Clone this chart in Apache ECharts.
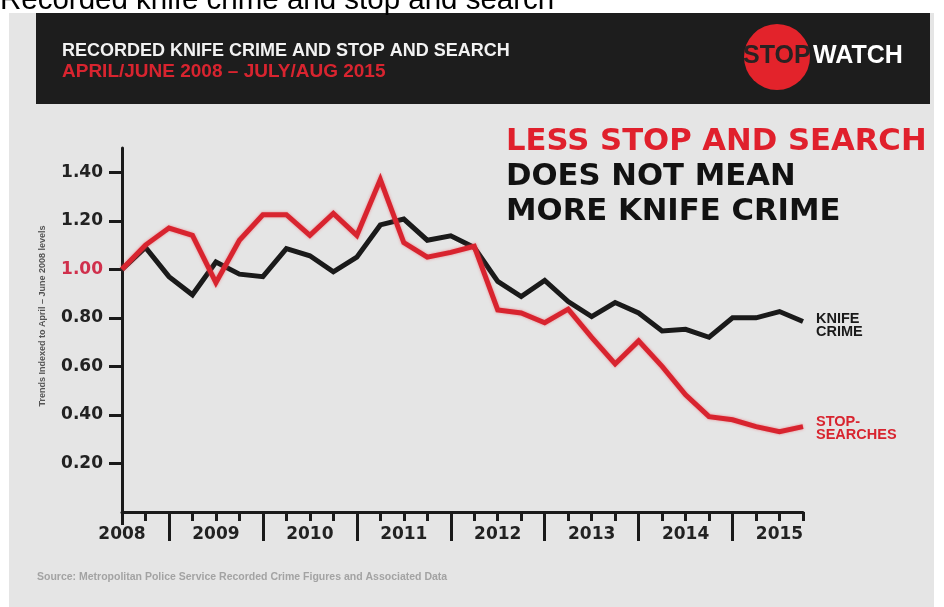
<!DOCTYPE html>
<html>
<head>
<meta charset="utf-8">
<script src="https://cdn.jsdelivr.net/npm/echarts@6/dist/echarts.min.js"></script>
<style>
  html, body { margin: 0; padding: 0; background: #ffffff; }
  #chart { width: 944px; height: 607px; }
</style>
</head>
<body>
<div id="chart"></div>
<script>
// ---- data ----
var quarters = ['2008 Q2','2008 Q3','2008 Q4','2009 Q1','2009 Q2','2009 Q3','2009 Q4','2010 Q1','2010 Q2','2010 Q3',
                '2010 Q4','2011 Q1','2011 Q2','2011 Q3','2011 Q4','2012 Q1','2012 Q2','2012 Q3','2012 Q4','2013 Q1',
                '2013 Q2','2013 Q3','2013 Q4','2014 Q1','2014 Q2','2014 Q3','2014 Q4','2015 Q1','2015 Q2','2015 Q3'];
var yearLabels = ['2008','2009','2010','2011','2012','2013','2014','2015'];
var knifeCrime = [1.00, 1.09, 0.97, 0.895, 1.03, 0.98, 0.97, 1.085, 1.056, 0.99,
                  1.05, 1.183, 1.207, 1.12, 1.138, 1.09, 0.95, 0.888, 0.954, 0.867,
                  0.805, 0.863, 0.82, 0.746, 0.753, 0.72, 0.80, 0.80, 0.826, 0.785];
var stopSearches = [1.00, 1.10, 1.17, 1.14, 0.945, 1.12, 1.225, 1.225, 1.14, 1.23,
                    1.14, 1.37, 1.11, 1.05, 1.07, 1.095, 0.833, 0.82, 0.78, 0.836,
                    0.72, 0.61, 0.705, 0.60, 0.483, 0.393, 0.38, 0.352, 0.331, 0.352];
var yTicks = [0.2, 0.4, 0.6, 0.8, 1.0, 1.2, 1.4];

var RED = '#d8242f';
var INK = '#1a1a1a';

var chart = echarts.init(document.getElementById('chart'), null, { renderer: 'canvas' });

function isLong(i) { return i >= 2 && (i - 2) % 4 === 0; }

var baseX = {
  type: 'category',
  data: quarters,
  boundaryGap: false,
  position: 'bottom',
  offset: 0,
  gridIndex: 0,
  splitLine: { show: false }
};

var option = {
  animation: false,
  backgroundColor: '#ffffff',
  grid: { left: 122, top: 148, width: 681, height: 364, containLabel: false },
  xAxis: [
    Object.assign({}, baseX, {
      axisLine: { show: true, lineStyle: { color: INK, width: 3 } },
      axisTick: { show: true, length: 9, lineStyle: { color: INK, width: 3 },
        interval: function (i) { return i !== 0 && !isLong(i); } },
      axisLabel: {
        show: true, margin: 14,
        interval: function (i) { return i % 4 === 0; },
        formatter: function (v, i) { return yearLabels[Math.floor(i / 4)]; },
        fontFamily: 'DejaVu Sans', fontWeight: 'bold', fontSize: 17, color: '#222'
      }
    }),
    Object.assign({}, baseX, {
      axisLine: { show: false },
      axisTick: { show: true, length: 29, lineStyle: { color: INK, width: 3 },
        interval: function (i) { return isLong(i); } },
      axisLabel: { show: false }
    }),
    Object.assign({}, baseX, {
      axisLine: { show: false },
      axisTick: { show: true, length: 13, lineStyle: { color: INK, width: 3 },
        interval: function (i) { return i === 0; } },
      axisLabel: { show: false }
    })
  ],
  yAxis: {
    type: 'value',
    min: 0, max: 1.5,
    splitLine: { show: false },
    axisLine: { show: true, lineStyle: { color: INK, width: 3 } },
    axisTick: { show: true, length: 13, lineStyle: { color: INK, width: 3 }, customValues: yTicks },
    axisLabel: {
      show: true, margin: 19, customValues: yTicks,
      fontFamily: 'DejaVu Sans', fontWeight: 'bold', fontSize: 17, color: '#222',
      formatter: function (v) {
        var s = v.toFixed(2);
        return Math.abs(v - 1) < 1e-9 ? '{p|' + s + '}' : s;
      },
      rich: { p: { color: '#d0304c', fontFamily: 'DejaVu Sans', fontWeight: 'bold', fontSize: 17 } }
    }
  },
  series: [
    {
      name: 'Knife crime', type: 'line', data: knifeCrime, xAxisIndex: 0,
      showSymbol: false, symbol: 'none',
      lineStyle: { color: INK, width: 5, join: 'miter' },
      z: 3,
      endLabel: {
        show: true, formatter: 'KNIFE\nCRIME', distance: 13, offset: [0, 4],
        fontFamily: 'Liberation Sans', fontWeight: 'bold', fontSize: 14.5, lineHeight: 12.5, color: INK
      }
    },
    {
      name: 'Stop-searches', type: 'line', data: stopSearches, xAxisIndex: 0,
      showSymbol: false, symbol: 'none',
      lineStyle: { color: RED, width: 5, join: 'miter', shadowBlur: 3, shadowColor: 'rgba(235,80,90,0.6)' },
      z: 4,
      endLabel: {
        show: true, formatter: 'STOP-\nSEARCHES', distance: 13, offset: [0, 2],
        fontFamily: 'Liberation Sans', fontWeight: 'bold', fontSize: 14.5, lineHeight: 12.5, color: RED
      }
    }
  ],
  graphic: [
    { type: 'rect', z: -20, silent: true, shape: { x: 9, y: 13, width: 925, height: 594 }, style: { fill: '#e5e5e5' } },
    { type: 'rect', z: -10, silent: true, shape: { x: 36, y: 13, width: 894, height: 91 }, style: { fill: '#1d1d1d' } },
    { type: 'circle', z: -5, silent: true, shape: { cx: 777, cy: 57, r: 33 }, style: { fill: '#e3232b' } },
    { type: 'text', z: 10, silent: true, style: { text: 'Recorded knife crime and stop and search', x: 0, y: 1,
        font: 'normal 29.5px "Liberation Sans", Arial, sans-serif', fill: '#000', verticalAlign: 'middle', align: 'left' } },
    { type: 'text', z: 10, silent: true, style: { text: 'RECORDED KNIFE CRIME AND STOP AND SEARCH', x: 62, y: 51,
        font: 'bold 18px "Liberation Sans", Arial, sans-serif', fill: '#f2f2f2', verticalAlign: 'middle' } },
    { type: 'text', z: 10, silent: true, style: { text: 'APRIL/JUNE 2008 \u2013 JULY/AUG 2015', x: 62, y: 72,
        font: 'bold 19px "Liberation Sans", Arial, sans-serif', fill: RED, verticalAlign: 'middle' } },
    { type: 'text', z: 10, silent: true, style: { text: 'STOP', x: 743, y: 56,
        font: 'bold 25px "Liberation Sans", Arial, sans-serif', fill: '#2a2222', verticalAlign: 'middle' } },
    { type: 'text', z: 10, silent: true, style: { text: 'WATCH', x: 813, y: 56,
        font: 'bold 25px "Liberation Sans", Arial, sans-serif', fill: '#ffffff', verticalAlign: 'middle' } },
    { type: 'text', z: 10, silent: true, style: { text: 'LESS STOP AND SEARCH', x: 506, y: 142,
        font: 'bold 30.7px "DejaVu Sans", sans-serif', fill: '#e0202c', verticalAlign: 'middle' } },
    { type: 'text', z: 10, silent: true, style: { text: 'DOES NOT MEAN', x: 506, y: 177,
        font: 'bold 30.7px "DejaVu Sans", sans-serif', fill: '#121212', verticalAlign: 'middle' } },
    { type: 'text', z: 10, silent: true, style: { text: 'MORE KNIFE CRIME', x: 506, y: 212,
        font: 'bold 30.7px "DejaVu Sans", sans-serif', fill: '#121212', verticalAlign: 'middle' } },
    { type: 'text', z: 10, silent: true, rotation: Math.PI / 2, x: 43, y: 316,
      style: { text: 'Trends Indexed to April \u2013 June 2008 levels', x: 0, y: 0,
        font: 'bold 9px "Liberation Sans", Arial, sans-serif', fill: '#555', align: 'center', verticalAlign: 'middle' } },
    { type: 'text', z: 10, silent: true, style: { text: 'Source: Metropolitan Police Service Recorded Crime Figures and Associated Data', x: 37, y: 577,
        font: 'bold 10.5px "Liberation Sans", Arial, sans-serif', fill: '#a3a3a3', verticalAlign: 'middle' } }
  ]
};
chart.setOption(option);
</script>
</body>
</html>
